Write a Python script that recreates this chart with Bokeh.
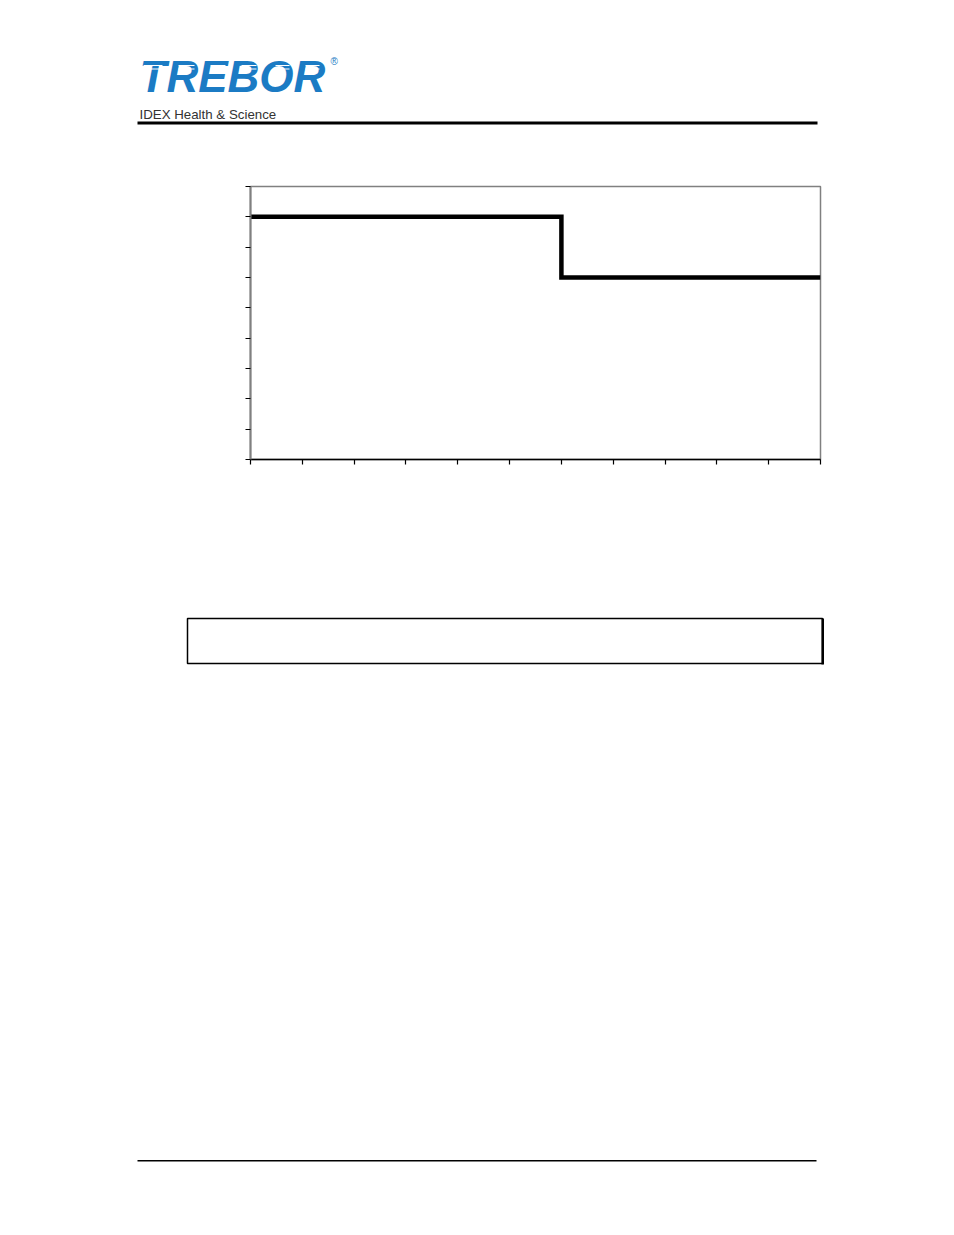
from bokeh.plotting import figure
from bokeh.layouts import column
from bokeh.models import Range1d, FixedTicker
from bokeh.core.properties import value
from bokeh.embed import file_html
from bokeh.resources import INLINE

# ---- data ----
step_x = [0, 6, 11]
step_y = [8, 6, 6]
x_ticks = list(range(0, 12))
y_ticks = list(range(0, 10))
logo_text = "TREBOR"
logo_mark = "®"
subtitle = "IDEX Health & Science"

W = 938
TOP_H = 140          # page rows 0..140
CHART_H = 340        # page rows 140..480
BOT_H = 1219 - TOP_H - CHART_H  # page rows 480..1219
BLUE = "#1b7bc4"


def deco_fig(y0, y1):
    f = figure(width=W, height=y1 - y0, output_backend="svg",
               toolbar_location=None, x_range=Range1d(0, W),
               y_range=Range1d(start=y1, end=y0),
               min_border=0, outline_line_color=None, frame_align=False)
    f.axis.visible = False
    f.grid.visible = False
    f.background_fill_color = "white"
    f.border_fill_color = "white"
    return f


# ---- header ----
top = deco_fig(0, TOP_H)
top.text(x=[139], y=[76], text=[logo_text], text_font=value("Liberation Sans"),
         text_font_style="bold italic", text_font_size="44px",
         text_color=BLUE, text_baseline="alphabetic", text_align="left")
# speed stripes in logo
stripe_l = [143, 178, 210, 241, 275, 305]
stripe_r = [162, 194, 225, 256, 289, 319]
for yy in (65.0, 68.5):
    top.quad(left=stripe_l, right=stripe_r, top=[yy - 0.6] * 6,
             bottom=[yy + 0.6] * 6, fill_color="white", line_color=None)
top.text(x=[330], y=[61], text=[logo_mark], text_font=value("Liberation Sans"),
         text_font_size="10px", text_color=BLUE, text_baseline="alphabetic")
top.text(x=[139], y=[114], text=[subtitle], text_font=value("Liberation Sans"),
         text_font_size="13.3px", text_color="#333333",
         text_baseline="alphabetic")
top.quad(left=[137], right=[817], top=[121], bottom=[124],
         fill_color="black", line_color=None)

# ---- chart ----
p = figure(width=W, height=CHART_H, output_backend="svg", toolbar_location=None,
           x_range=Range1d(0, 11), y_range=Range1d(0, 9),
           min_border_left=250, min_border_right=W - 820,
           min_border_top=186 - TOP_H, min_border_bottom=TOP_H + CHART_H - 459,
           frame_align=False)
p.background_fill_color = "white"
p.border_fill_color = "white"
p.outline_line_color = "#808080"
p.outline_line_width = 1.5
p.grid.visible = False

p.step(step_x, step_y, mode="after", line_color="black", line_width=4.5,
       line_join="miter")

for ax, ticks in ((p.xaxis, x_ticks), (p.yaxis, y_ticks)):
    ax.ticker = FixedTicker(ticks=ticks)
    ax.major_label_overrides = {t: "" for t in ticks}
    ax.major_tick_in = 0
    ax.major_tick_out = 5
    ax.major_tick_line_color = "black"
    ax.major_tick_line_width = 1.2
    ax.minor_tick_line_color = None
p.xaxis.axis_line_color = "black"
p.xaxis.axis_line_width = 1.5
p.yaxis.axis_line_color = "#808080"
p.yaxis.axis_line_width = 2

# ---- lower page: empty box and footer rule ----
bot = deco_fig(TOP_H + CHART_H, TOP_H + CHART_H + BOT_H)
bot.quad(left=[187], right=[822], top=[618], bottom=[663],
         fill_color=None, line_color="black", line_width=1.5)
bot.quad(left=[821], right=[823.5], top=[618], bottom=[664],
         fill_color="black", line_color=None)
bot.quad(left=[137], right=[816], top=[1159.5], bottom=[1161],
         fill_color="black", line_color=None)

layout = column(top, p, bot, spacing=0)
open("out.html", "w").write(file_html(layout, INLINE))
